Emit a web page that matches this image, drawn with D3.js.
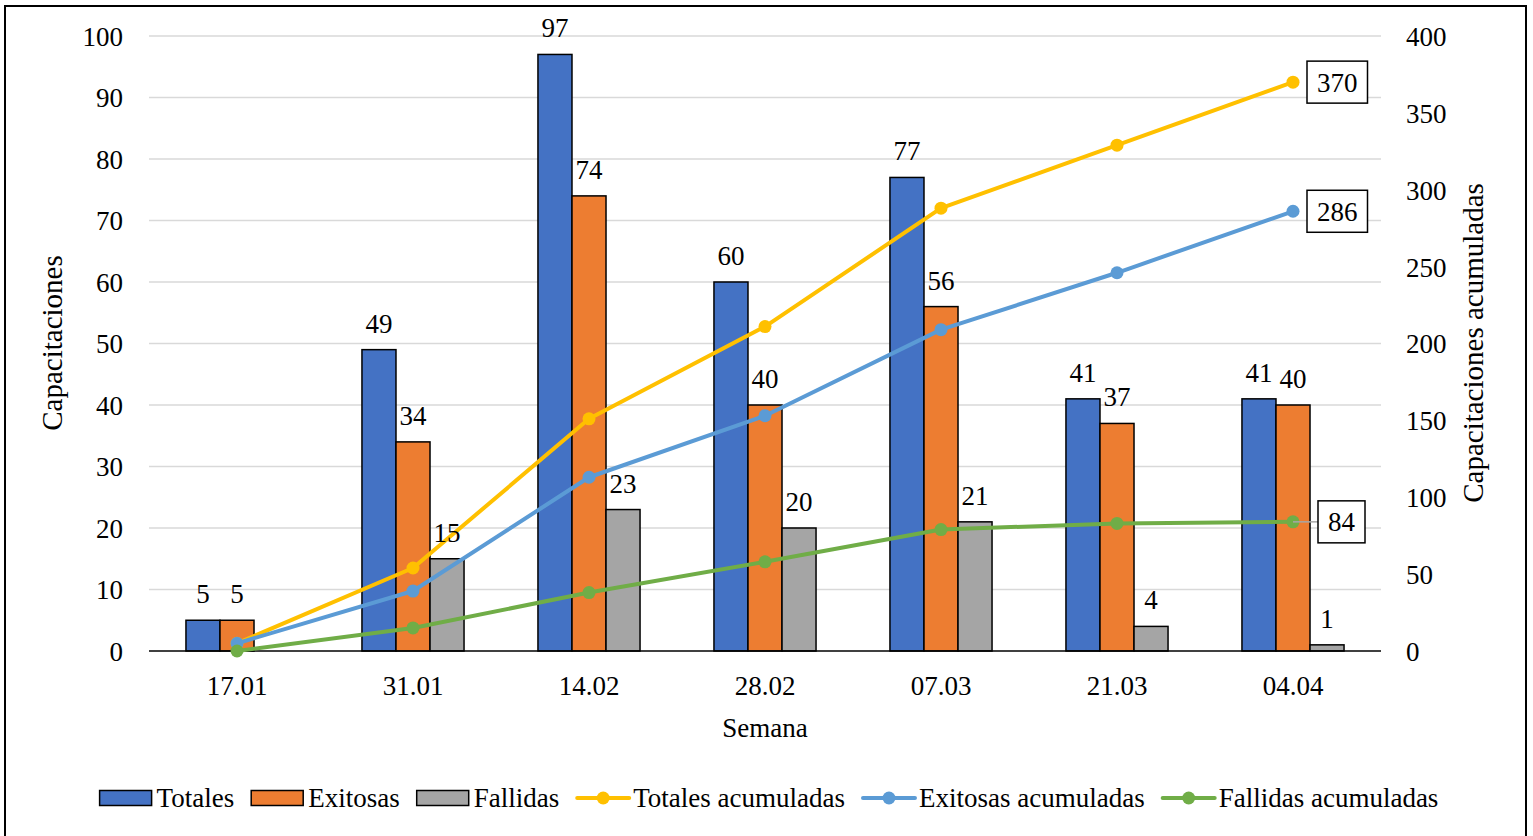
<!DOCTYPE html>
<html>
<head>
<meta charset="utf-8">
<script src="https://cdn.jsdelivr.net/npm/d3@7"></script>
<style>
  html, body { margin: 0; padding: 0; background: #fff; }
  svg { display: block; }
  text { font-family: "Liberation Serif", "Times New Roman", Times, serif; fill: #000; }
</style>
</head>
<body>
<svg id="chart" width="1533" height="836"></svg>
<script>
// Weekly training sessions (capacitaciones) and running totals
const semanas = ["17.01", "31.01", "14.02", "28.02", "07.03", "21.03", "04.04"];
const totales = [5, 49, 97, 60, 77, 41, 41];
const exitosas = [5, 34, 74, 40, 56, 37, 40];
const fallidas = [0, 15, 23, 20, 21, 4, 1];
const totalesAcum = [5, 54, 151, 211, 288, 329, 370];
const exitosasAcum = [5, 39, 113, 153, 209, 246, 286];
const fallidasAcum = [0, 15, 38, 58, 79, 83, 84];
const ticksIzq = [0, 10, 20, 30, 40, 50, 60, 70, 80, 90, 100];
const ticksDer = [0, 50, 100, 150, 200, 250, 300, 350, 400];

const SERIF = "Liberation Serif, Times New Roman, Times, serif";

const barSeries = [
  { name: "Totales", values: totales, color: "#4472C4" },
  { name: "Exitosas", values: exitosas, color: "#ED7D31" },
  { name: "Fallidas", values: fallidas, color: "#A5A5A5" }
];
const lineSeries = [
  { name: "Totales acumuladas", values: totalesAcum, color: "#FFC000", boxDx: 14, leader: false },
  { name: "Exitosas acumuladas", values: exitosasAcum, color: "#5B9BD5", boxDx: 14, leader: false },
  { name: "Fallidas acumuladas", values: fallidasAcum, color: "#70AD47", boxDx: 25, leader: true }
];

const svg = d3.select("#chart");
const W = 1533, H = 836;
const plot = { left: 149, right: 1381, top: 36, bottom: 651 };
const FS = 27;

svg.append("rect").attr("width", W).attr("height", H).attr("fill", "#fff");
// outer frame
svg.append("rect")
  .attr("x", 5).attr("y", 6).attr("width", 1521).attr("height", 840)
  .attr("fill", "none").attr("stroke", "#000").attr("stroke-width", 2);

const x = d3.scaleBand().domain(semanas).range([plot.left, plot.right]).padding(0);
const bw = x.bandwidth();
const x1 = d3.scaleBand().domain(barSeries.map(s => s.name)).range([bw * 0.21, bw * 0.79]).padding(0);
const yL = d3.scaleLinear().domain([0, 100]).range([plot.bottom, plot.top]);
const yR = d3.scaleLinear().domain([0, 400]).range([plot.bottom, plot.top]);

// horizontal gridlines
svg.append("g").selectAll("line").data(ticksIzq.filter(t => t > 0)).join("line")
  .attr("x1", plot.left).attr("x2", plot.right)
  .attr("y1", d => yL(d)).attr("y2", d => yL(d))
  .attr("stroke", "#d9d9d9").attr("stroke-width", 1.5);

// left axis
const axL = svg.append("g").attr("transform", `translate(${plot.left},0)`)
  .call(d3.axisLeft(yL).tickValues(ticksIzq).tickSize(0).tickPadding(26));
axL.attr("font-family", SERIF);
axL.select(".domain").remove();
axL.selectAll("text").attr("font-size", FS).attr("dy", "0.35em");

// right axis
const axR = svg.append("g").attr("transform", `translate(${plot.right},0)`)
  .call(d3.axisRight(yR).tickValues(ticksDer).tickSize(0).tickPadding(25));
axR.attr("font-family", SERIF);
axR.select(".domain").remove();
axR.selectAll("text").attr("font-size", FS).attr("dy", "0.35em");

// bars, one group per week
const idx = semanas.map((s, i) => i);
barSeries.forEach(s => {
  svg.append("g").selectAll("rect").data(idx.filter(i => s.values[i] > 0)).join("rect")
    .attr("x", i => x(semanas[i]) + x1(s.name))
    .attr("width", x1.bandwidth())
    .attr("y", i => yL(s.values[i]))
    .attr("height", i => yL(0) - yL(s.values[i]))
    .attr("fill", s.color).attr("stroke", "#000").attr("stroke-width", 1.5);
});

// bottom axis line
svg.append("line").attr("x1", plot.left).attr("x2", plot.right)
  .attr("y1", plot.bottom).attr("y2", plot.bottom)
  .attr("stroke", "#000").attr("stroke-width", 1.5);

// category axis labels
const axB = svg.append("g").attr("transform", `translate(0,${plot.bottom})`)
  .call(d3.axisBottom(x).tickSize(0).tickPadding(0));
axB.attr("font-family", SERIF);
axB.select(".domain").remove();
axB.selectAll("text").attr("font-size", FS).attr("dy", null).attr("y", 44);

// cumulative lines
lineSeries.forEach(s => {
  const line = d3.line().x((d, i) => x(semanas[i]) + bw / 2).y(d => yR(d));
  svg.append("path").datum(s.values).attr("d", line)
    .attr("fill", "none").attr("stroke", s.color).attr("stroke-width", 4)
    .attr("stroke-linejoin", "round").attr("stroke-linecap", "round");
  svg.append("g").selectAll("circle").data(s.values).join("circle")
    .attr("cx", (d, i) => x(semanas[i]) + bw / 2).attr("cy", d => yR(d))
    .attr("r", 6.5).attr("fill", s.color);
});

// bar value labels
barSeries.forEach(s => {
  svg.append("g").selectAll("text").data(idx.filter(i => s.values[i] > 0)).join("text")
    .attr("x", i => x(semanas[i]) + x1(s.name) + x1.bandwidth() / 2)
    .attr("y", i => yL(s.values[i]) - 17)
    .attr("text-anchor", "middle").attr("font-size", FS)
    .text(i => s.values[i]);
});

// boxed labels at the last point of each cumulative line
lineSeries.forEach(s => {
  const last = s.values.length - 1;
  const px = x(semanas[last]) + bw / 2;
  const py = yR(s.values[last]);
  const g = svg.append("g");
  const t = g.append("text").attr("font-size", FS).attr("text-anchor", "middle").text(s.values[last]);
  const tw = t.node().getComputedTextLength();
  const boxW = tw + 20, boxH = 42;
  const bx = px + s.boxDx;
  if (s.leader) {
    g.insert("line", "text").attr("x1", px).attr("x2", bx).attr("y1", py).attr("y2", py)
      .attr("stroke", "#a6a6a6").attr("stroke-width", 1.5);
  }
  g.insert("rect", "text").attr("x", bx).attr("y", py - boxH / 2).attr("width", boxW).attr("height", boxH)
    .attr("fill", "#fff").attr("stroke", "#000").attr("stroke-width", 1.5);
  t.attr("x", bx + boxW / 2).attr("y", py + 0.35 * FS);
});

// axis titles
svg.append("text").attr("transform", "translate(56,343) rotate(-90)")
  .attr("text-anchor", "middle").attr("dy", "0.22em").attr("font-size", 29).text("Capacitaciones");
svg.append("text").attr("transform", "translate(1477,343) rotate(-90)")
  .attr("text-anchor", "middle").attr("dy", "0.22em").attr("font-size", 29).text("Capacitaciones acumuladas");
svg.append("text").attr("x", (plot.left + plot.right) / 2).attr("y", 737)
  .attr("text-anchor", "middle").attr("font-size", FS).text("Semana");

// legend
const legendItems = barSeries.map(s => ({ ...s, type: "bar" }))
  .concat(lineSeries.map(s => ({ ...s, type: "line" })));
const lg = svg.append("g");
let cx = 0;
const swW = 52, gapText = 5, gapItem = 17, ly = 798;
legendItems.forEach(it => {
  const g = lg.append("g").attr("transform", `translate(${cx},0)`);
  if (it.type === "bar") {
    g.append("rect").attr("x", 0).attr("y", ly - 7.5).attr("width", swW).attr("height", 15)
      .attr("fill", it.color).attr("stroke", "#000").attr("stroke-width", 1.5);
  } else {
    g.append("line").attr("x1", 1).attr("x2", swW + 1).attr("y1", ly).attr("y2", ly)
      .attr("stroke", it.color).attr("stroke-width", 4).attr("stroke-linecap", "round");
    g.append("circle").attr("cx", swW / 2 + 1).attr("cy", ly).attr("r", 6.5).attr("fill", it.color);
  }
  const t = g.append("text").attr("x", swW + gapText).attr("y", ly + 0.35 * FS)
    .attr("font-size", FS).text(it.name);
  cx += swW + gapText + t.node().getComputedTextLength() + gapItem;
});
const totalW = cx - gapItem;
lg.attr("transform", `translate(${769 - totalW / 2},0)`);
</script>
</body>
</html>
